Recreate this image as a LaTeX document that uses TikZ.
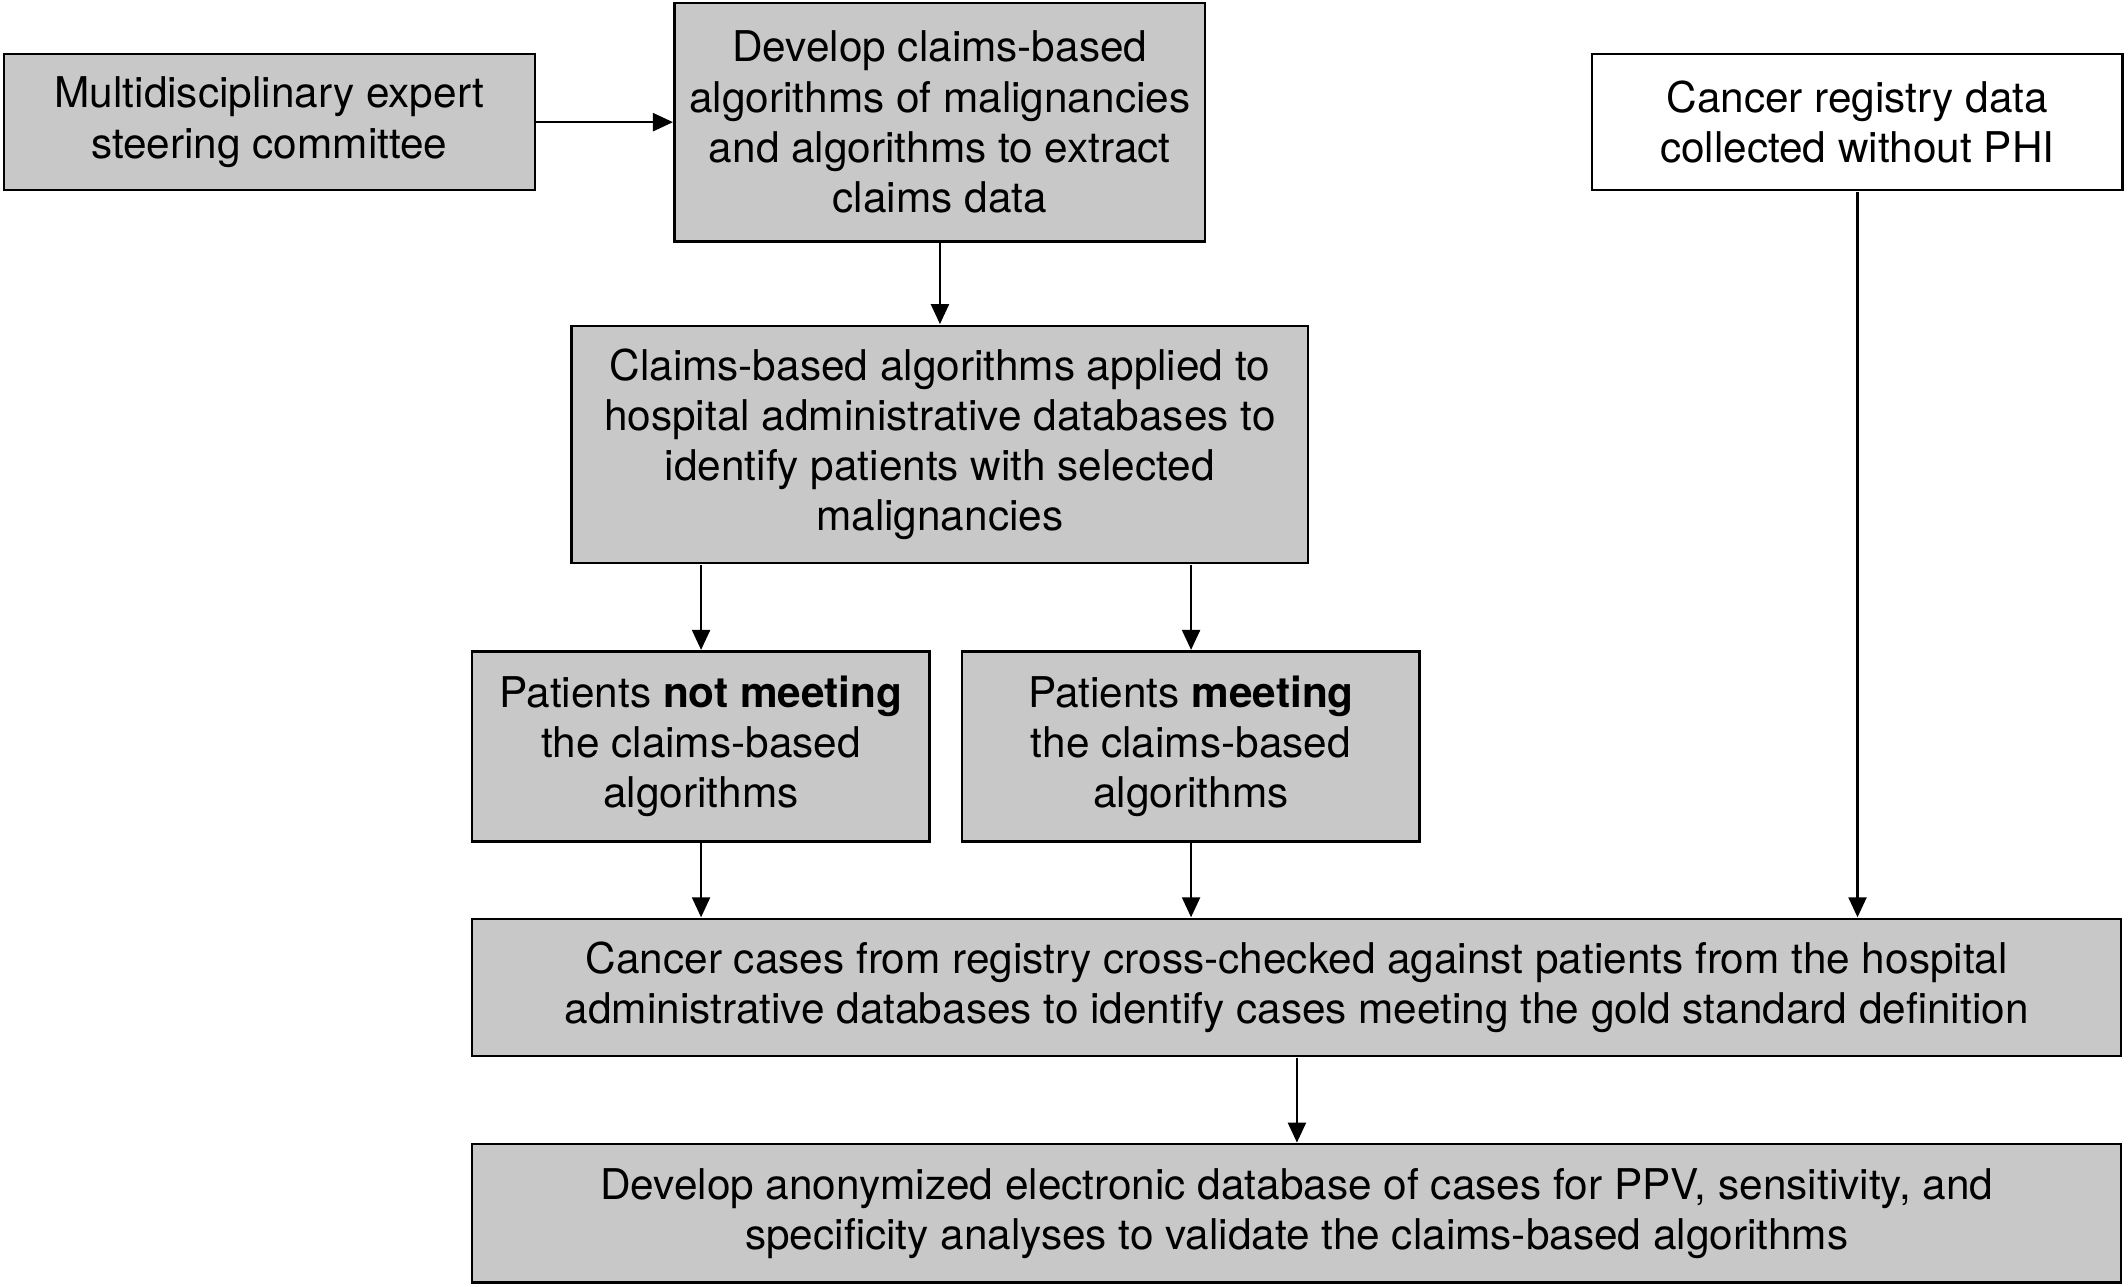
\documentclass[tikz,border=0pt]{standalone}
\usepackage{fontspec}
\setmainfont{TeX Gyre Heros}
\usetikzlibrary{arrows.meta}
\definecolor{boxgray}{HTML}{C8C8C8}
\begin{document}
\begin{tikzpicture}[x=1pt,y=-1pt,scale=1.3571,every node/.style={transform shape},
  box/.style={draw=black, line width=2.4pt, fill=boxgray, align=center, inner sep=0pt,
    font=\fontsize{31.2}{37}\selectfont},
  whitebox/.style={box, fill=white},
  conn/.style={line width=2.3pt, -{Triangle[length=20pt,width=18pt]}}]
\useasboundingbox (0,0) rectangle (1568,948.3);
\fill[white] (0,0) rectangle (1568,948.3);
\node[box, minimum width=391pt, minimum height=100pt] (msc) at (198.5,90) {Multidisciplinary expert\\steering committee};
\node[box, minimum width=391pt, minimum height=176pt] (dev) at (692.5,90) {Develop claims-based\\algorithms of malignancies\\and algorithms to extract\\claims data};
\node[whitebox, minimum width=391pt, minimum height=100pt] (reg) at (1368.5,90) {Cancer registry data\\collected without PHI};
\node[box, minimum width=543pt, minimum height=175pt] (app) at (692.5,327.5) {Claims-based algorithms applied to\\hospital administrative databases to\\identify patients with selected\\malignancies};
\node[box, minimum width=337pt, minimum height=140pt] (not) at (516.5,550) {Patients \textbf{not meeting}\\the claims-based\\algorithms};
\node[box, minimum width=337pt, minimum height=140pt] (meet) at (877.5,550) {Patients \textbf{meeting}\\the claims-based\\algorithms};
\node[box, minimum width=1215pt, minimum height=101pt] (cross) at (955.5,727.5) {Cancer cases from registry cross-checked against patients from the hospital\\administrative databases to identify cases meeting the gold standard definition};
\node[box, minimum width=1215pt, minimum height=102pt] (anon) at (955.5,894) {Develop anonymized electronic database of cases for PPV, sensitivity, and\\specificity analyses to validate the claims-based algorithms};
\draw[conn] (msc.east) -- (dev.west);
\draw[conn] (dev.south) -- (app.north);
\draw[conn] (app.south -| not.north) -- (not.north);
\draw[conn] (app.south -| meet.north) -- (meet.north);
\draw[conn] (not.south) -- (not.south |- cross.north);
\draw[conn] (meet.south) -- (meet.south |- cross.north);
\draw[conn] (reg.south) -- (reg.south |- cross.north);
\draw[conn] (cross.south) -- (anon.north);
\end{tikzpicture}
\end{document}
